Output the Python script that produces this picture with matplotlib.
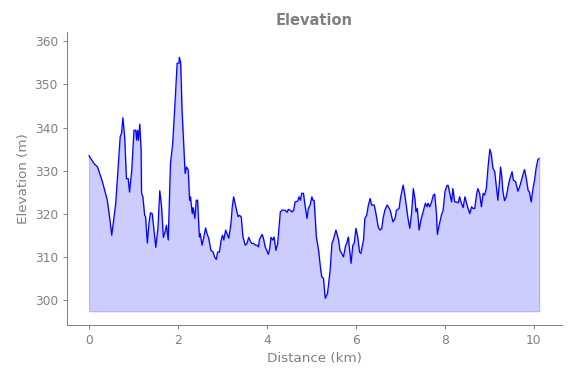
import numpy as np
import matplotlib
matplotlib.use("Agg")
import matplotlib.pyplot as plt

# distance along the route (km) and elevation (m)
distance_km = [
    0.00, 0.11, 0.19, 0.30, 0.41, 0.47, 0.51, 0.60, 0.70, 0.73,
    0.76, 0.80, 0.84, 0.88, 0.91, 0.96, 1.01, 1.05, 1.07, 1.09,
    1.11, 1.14, 1.17, 1.18, 1.21, 1.25, 1.27, 1.31, 1.35, 1.38,
    1.42, 1.46, 1.50, 1.55, 1.59, 1.63, 1.67, 1.70, 1.74, 1.78,
    1.83, 1.88, 1.94, 1.98, 2.02, 2.03, 2.06, 2.09, 2.13, 2.16,
    2.19, 2.23, 2.26, 2.28, 2.32, 2.34, 2.38, 2.41, 2.44, 2.48,
    2.50, 2.54, 2.58, 2.62, 2.65, 2.69, 2.74, 2.79, 2.82, 2.86,
    2.89, 2.93, 2.97, 3.00, 3.03, 3.07, 3.10, 3.14, 3.19, 3.22,
    3.25, 3.29, 3.35, 3.38, 3.42, 3.46, 3.51, 3.55, 3.59, 3.63,
    3.66, 3.70, 3.74, 3.78, 3.81, 3.83, 3.89, 3.92, 3.96, 4.03,
    4.06, 4.09, 4.13, 4.16, 4.20, 4.24, 4.30, 4.34, 4.41, 4.45,
    4.48, 4.52, 4.56, 4.60, 4.63, 4.69, 4.72, 4.75, 4.78, 4.82,
    4.86, 4.90, 4.93, 4.97, 5.01, 5.03, 5.06, 5.11, 5.16, 5.20,
    5.23, 5.27, 5.31, 5.36, 5.42, 5.46, 5.49, 5.55, 5.61, 5.64,
    5.68, 5.72, 5.76, 5.79, 5.83, 5.85, 5.89, 5.93, 5.96, 6.00,
    6.04, 6.08, 6.11, 6.17, 6.20, 6.24, 6.28, 6.32, 6.35, 6.41,
    6.45, 6.50, 6.54, 6.58, 6.61, 6.65, 6.70, 6.75, 6.78, 6.83,
    6.88, 6.91, 6.97, 7.00, 7.06, 7.10, 7.14, 7.17, 7.21, 7.25,
    7.29, 7.33, 7.35, 7.38, 7.42, 7.46, 7.50, 7.53, 7.56, 7.60,
    7.62, 7.66, 7.70, 7.74, 7.77, 7.81, 7.83, 7.87, 7.92, 7.96,
    8.00, 8.04, 8.07, 8.11, 8.15, 8.18, 8.22, 8.26, 8.30, 8.33,
    8.37, 8.41, 8.45, 8.48, 8.52, 8.56, 8.60, 8.63, 8.67, 8.71,
    8.74, 8.78, 8.82, 8.86, 8.89, 8.93, 8.97, 9.01, 9.04, 9.08,
    9.12, 9.16, 9.19, 9.23, 9.25, 9.28, 9.30, 9.34, 9.38, 9.42,
    9.45, 9.51, 9.54, 9.59, 9.64, 9.68, 9.74, 9.79, 9.83, 9.87,
    9.90, 9.94, 9.98, 10.02, 10.05, 10.09, 10.12,
]
elevation_m = [
    333.5, 331.7, 330.9, 327.5, 323.2, 318.6, 315.1, 322.5, 337.9, 338.7,
    342.3, 337.9, 328.2, 328.2, 325.1, 330.2, 339.4, 339.4, 337.1, 339.4,
    337.1, 340.8, 334.8, 324.8, 324.0, 319.7, 319.4, 313.3, 318.2, 320.3,
    320.1, 316.3, 312.3, 317.0, 325.4, 321.7, 314.6, 315.5, 317.4, 314.0,
    331.7, 336.3, 347.1, 354.9, 354.9, 356.3, 354.9, 344.1, 335.6, 329.4,
    330.9, 330.2, 323.2, 324.0, 320.1, 321.5, 319.0, 323.2, 323.2, 314.7,
    315.5, 312.8, 314.7, 316.8, 315.5, 314.4, 311.6, 311.2, 310.1, 309.5,
    311.2, 311.2, 314.0, 315.1, 314.0, 316.3, 315.5, 314.4, 317.8, 321.7,
    324.0, 322.1, 319.4, 319.7, 319.4, 314.7, 312.8, 313.2, 314.6, 313.6,
    313.2, 313.2, 312.8, 312.8, 312.4, 314.1, 315.3, 314.4, 312.4, 310.7,
    312.0, 314.6, 314.0, 314.7, 311.6, 313.2, 320.5, 320.9, 320.9, 320.4,
    321.1, 320.9, 320.5, 320.9, 322.8, 323.0, 324.0, 323.2, 324.8, 324.8,
    321.7, 319.0, 321.3, 322.1, 324.0, 323.2, 323.2, 314.7, 311.6, 307.8,
    305.5, 305.1, 300.5, 301.6, 307.0, 313.2, 314.0, 316.3, 314.0, 311.6,
    310.9, 310.1, 312.4, 313.2, 314.7, 312.4, 308.6, 312.8, 313.2, 316.7,
    314.7, 311.2, 310.9, 314.0, 319.0, 319.7, 322.1, 323.6, 322.1, 322.1,
    320.1, 317.0, 316.3, 316.7, 319.0, 320.9, 322.1, 321.3, 320.5, 318.2,
    319.0, 320.9, 321.3, 323.6, 326.7, 324.4, 321.3, 319.0, 316.7, 320.1,
    325.9, 323.2, 320.5, 321.3, 316.3, 318.6, 320.1, 321.3, 322.5, 321.7,
    322.5, 321.7, 322.8, 324.4, 324.6, 320.1, 315.3, 317.4, 319.7, 320.9,
    325.1, 326.5, 326.7, 324.8, 322.8, 325.9, 322.8, 322.8, 322.6, 324.0,
    322.5, 321.5, 324.0, 322.8, 321.3, 320.1, 321.7, 321.3, 321.3, 324.4,
    325.9, 324.8, 321.7, 324.8, 324.4, 325.9, 330.9, 335.0, 334.0, 330.6,
    329.8, 325.9, 323.2, 327.8, 330.9, 328.6, 325.5, 323.1, 324.0, 326.3,
    327.8, 329.8, 327.8, 327.5, 325.3, 326.3, 328.6, 330.3, 328.2, 325.5,
    325.1, 322.8, 325.9, 328.2, 330.6, 332.6, 332.9,
]

TEXT_GREY = "#808080"

dist = np.array(distance_km)
elev = np.array(elevation_m)
base = elev.min() - 3

fig = plt.figure(figsize=(571 / 88, 378 / 88), dpi=88)
ax = fig.add_subplot(111)
fig.subplots_adjust(left=0.1165, right=0.984, top=0.915, bottom=0.14)

ax.fill_between(dist, elev, base, color="blue", alpha=0.2)
ax.plot(dist, elev, color="blue", linewidth=1)

ax.set_xlim(-0.506, 10.63)
ax.set_ylim(294.3, 362.1)
ax.set_xticks([0, 2, 4, 6, 8, 10])
ax.set_yticks([300, 310, 320, 330, 340, 350, 360])

ax.set_title("Elevation", fontsize=12, fontweight="bold", color=TEXT_GREY)
ax.set_xlabel("Distance (km)", fontsize=11, color=TEXT_GREY)
ax.set_ylabel("Elevation (m)", fontsize=11, color=TEXT_GREY)

for side in ("top", "right"):
    ax.spines[side].set_visible(False)
for side in ("left", "bottom"):
    ax.spines[side].set_color(TEXT_GREY)
ax.tick_params(colors=TEXT_GREY, labelsize=10)

fig.savefig("out.png", dpi=88)
